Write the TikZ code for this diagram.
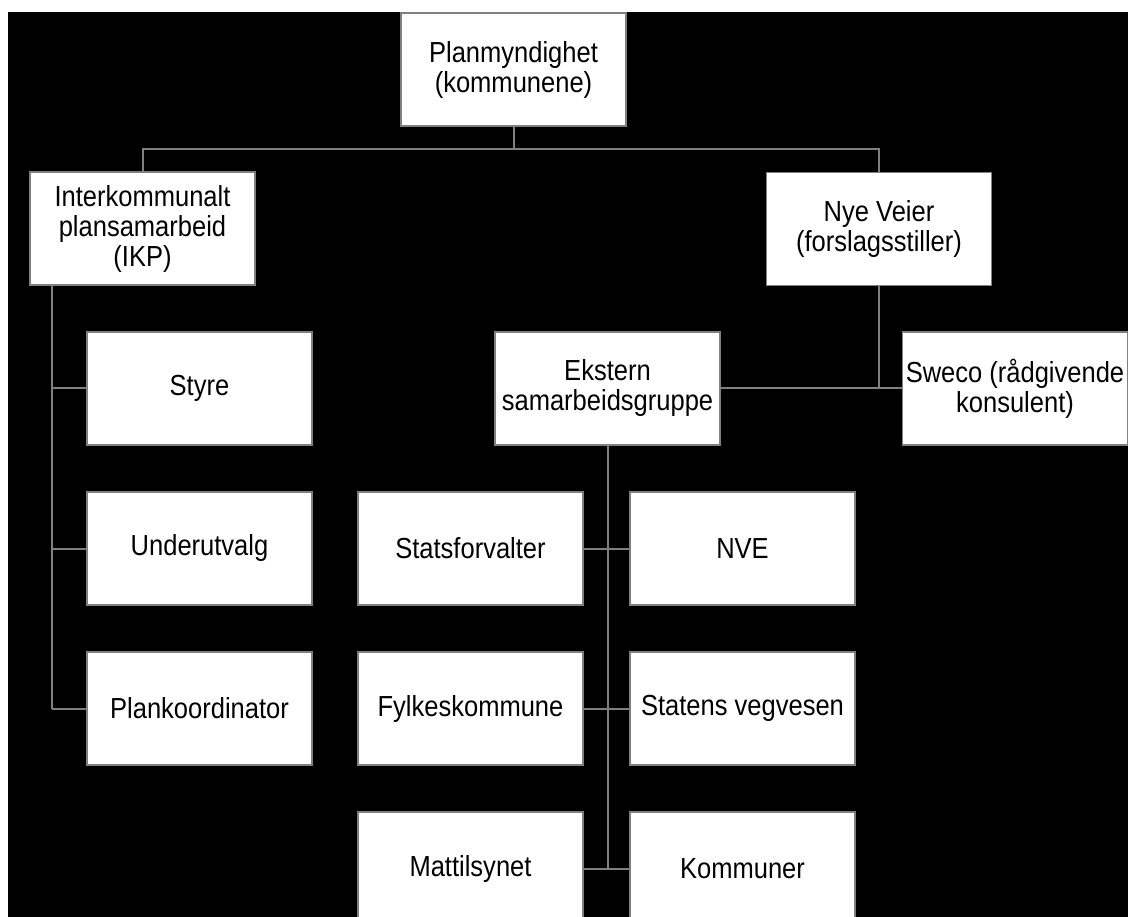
\documentclass[tikz,border=0pt]{standalone}
\usepackage{fontspec}
\setmainfont{Liberation Sans}[FakeStretch=0.88]
\usepackage{xcolor}
\usepackage{tikz}
\usetikzlibrary{positioning, calc}
\definecolor{orgline}{RGB}{128,128,128}
\definecolor{orgback}{RGB}{0,0,0}

\begin{document}
\begin{tikzpicture}[x=1pt, y=-1pt,
  orgbox/.style={draw=orgline, line width=1.5pt, fill=white, text=black,
    minimum width=225pt, minimum height=113pt, inner sep=0pt,
    align=center, font=\fontsize{29}{30}\selectfont},
  orglink/.style={draw=orgline, line width=2pt}]
\clip (0,0) rectangle (1128,917);
% Background
\fill[white] (0,0) rectangle (1128,917);
\fill[orgback] (8,12) rectangle (1140,930);

% Boxes
\node[orgbox] (plan) at (513.5,69.5) {Planmyndighet\\(kommunene)};
\node[orgbox] (ikp) at (142.5,228.5) {Interkommunalt\\plansamarbeid\\(IKP)};
\node[orgbox] (nye) at (879,229) {Nye Veier\\(forslagsstiller)};
\node[orgbox] (styre) at (199.5,388.5) {Styre};
\node[orgbox] (under) at (199.5,548.5) {Underutvalg};
\node[orgbox] (plank) at (199.5,708.5) {Plankoordinator};
\node[orgbox] (ekstern) at (607.5,388.5) {Ekstern\\samarbeidsgruppe};
\node[orgbox] (sweco) at (1015,388.5) {Sweco (rådgivende\\konsulent)};
\node[orgbox] (stats) at (470.5,548.5) {Statsforvalter};
\node[orgbox] (nve) at (742.5,548.5) {NVE};
\node[orgbox] (fylke) at (470.5,708.5) {Fylkeskommune};
\node[orgbox] (vegv) at (742.5,708.5) {Statens vegvesen};
\node[orgbox] (matt) at (470.5,868.5) {Mattilsynet};
\node[orgbox] (komm) at (742.5,868.5) {Kommuner};

% Connectors
\coordinate (topbar) at ($(plan.south)+(0,22)$);
\draw[orglink] (plan.south) -- (topbar);
\draw[orglink] (ikp.north) |- (topbar) -| (nye.north);
\coordinate (ikpbus) at (52,0);
\draw[orglink] (ikp.south -| ikpbus) -- (plank.west -| ikpbus);
\foreach \n in {styre, under, plank}
  \draw[orglink] (\n.west -| ikpbus) -- (\n.west);
\draw[orglink] (nye.south) -- (nye.south |- sweco.west);
\draw[orglink] (ekstern.east) -- (sweco.west);
\draw[orglink] (ekstern.south) -- (ekstern.south |- matt.east);
\foreach \l/\r in {stats/nve, fylke/vegv, matt/komm}
  \draw[orglink] (\l.east) -- (\r.west);
\end{tikzpicture}
\end{document}
